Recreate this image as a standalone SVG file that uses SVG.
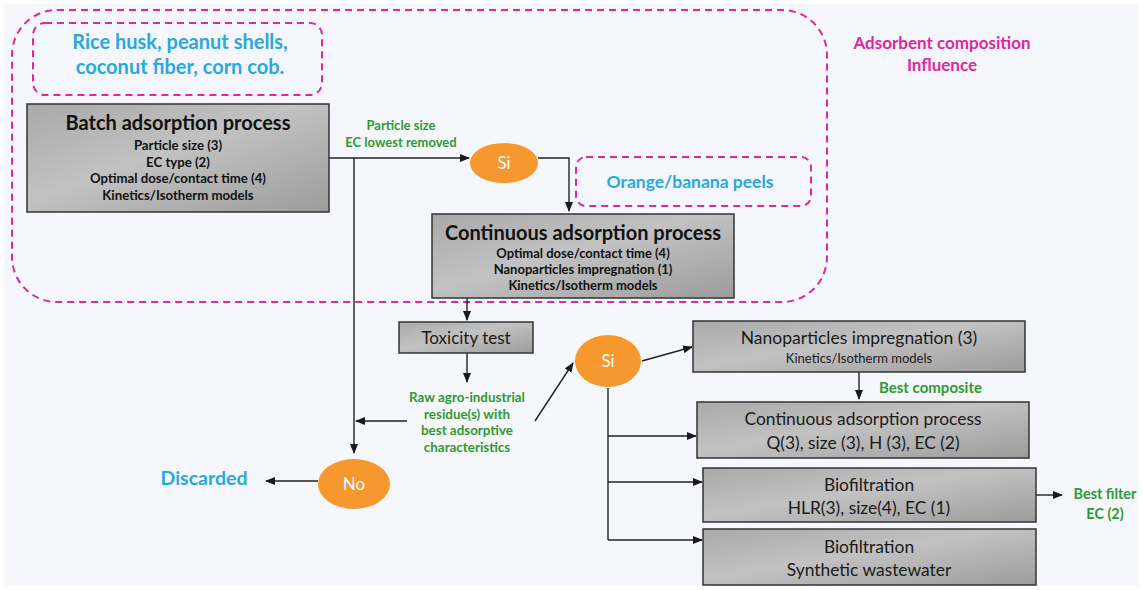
<svg xmlns="http://www.w3.org/2000/svg" width="1143" height="590" viewBox="0 0 1143 590">
<defs>
<linearGradient id="gbox" x1="0" y1="0" x2="1" y2="1">
<stop offset="0" stop-color="#a9a9a9"/>
<stop offset="0.45" stop-color="#c2c2c2"/>
<stop offset="1" stop-color="#9c9c9c"/>
</linearGradient>
<marker id="ah" markerWidth="10" markerHeight="8" refX="9" refY="4" orient="auto" markerUnits="userSpaceOnUse">
<path d="M0,0 L10,4 L0,8 Z" fill="#1a1a1a"/>
</marker>
<style>
.box{fill:url(#gbox);stroke:#333;stroke-width:1.5}
.dash{fill:none;stroke:#e0279f;stroke-width:2;stroke-dasharray:7,5}
.conn{fill:none;stroke:#222;stroke-width:1.4}
.arr{marker-end:url(#ah)}
.ell{fill:#f7982f}
text{font-family:Lato,"Open Sans","Liberation Sans",sans-serif;text-anchor:middle}
.tb{font-weight:bold;fill:#111}
.tr{fill:#1a1a1a}
.grn{font-weight:bold;fill:#2e9b2e}
.blu{font-weight:bold;fill:#29a8e0}
.mag{font-weight:bold;fill:#e0279f}
.wht{fill:#ffffff}
</style>
</defs>
<rect x="0" y="0" width="1143" height="590" fill="#ffffff"/>
<rect x="4" y="4" width="1135" height="582" fill="#f5f7fc"/>

<g id="composition-region">
<rect class="dash" x="12" y="10" width="815" height="292" rx="45" ry="45"/>
<text class="mag" x="942" y="49" font-size="17">Adsorbent composition</text>
<text class="mag" x="942" y="71" font-size="17">Influence</text>
</g>

<g id="materials-1">
<rect class="dash" x="33" y="23" width="289" height="72" rx="12" ry="12"/>
<text class="blu" x="180" y="49" font-size="20">Rice husk, peanut shells,</text>
<text class="blu" x="180" y="74" font-size="20">coconut fiber, corn cob.</text>
</g>

<g id="materials-2">
<rect class="dash" x="576" y="157" width="235" height="49" rx="10" ry="10"/>
<text class="blu" x="690" y="188" font-size="17.5">Orange/banana peels</text>
</g>

<g id="connectors">
<path class="conn arr" d="M329,158 L469,158"/>
<path class="conn arr" d="M354,158 L354,453"/>
<path class="conn arr" d="M538,158 L569,158 L569,211"/>
<path class="conn arr" d="M467,298 L467,320"/>
<path class="conn arr" d="M467,353 L467,382"/>
<path class="conn arr" d="M407,421 L356,421"/>
<path class="conn arr" d="M535,421 L573,363"/>
<path class="conn arr" d="M642,361 L692,347"/>
<path class="conn arr" d="M859,372 L859,399"/>
<path class="conn" d="M608,388 L608,540"/>
<path class="conn arr" d="M608,436 L696,436"/>
<path class="conn arr" d="M608,482 L702,482"/>
<path class="conn arr" d="M608,540 L702,540"/>
<path class="conn arr" d="M1036,495 L1062,495"/>
<path class="conn arr" d="M318,481 L266,481"/>
</g>

<g id="batch">
<rect class="box" x="27" y="104" width="302" height="108"/>
<text class="tb" x="178" y="130" font-size="20">Batch adsorption process</text>
<text class="tb" x="178" y="149.5" font-size="13.2">Particle size (3)</text>
<text class="tb" x="178" y="166.5" font-size="13.2">EC type (2)</text>
<text class="tb" x="178" y="182.5" font-size="13.2">Optimal dose/contact time (4)</text>
<text class="tb" x="178" y="199.5" font-size="13.2">Kinetics/Isotherm models</text>
</g>

<g id="label-particle">
<text class="grn" x="401" y="129.5" font-size="13">Particle size</text>
<text class="grn" x="401" y="146.5" font-size="13">EC lowest removed</text>
</g>

<g id="si-1">
<ellipse class="ell" cx="504" cy="163" rx="34" ry="20"/>
<text class="wht" x="504" y="169" font-size="17">Si</text>
</g>

<g id="continuous-1">
<rect class="box" x="432" y="214" width="302" height="84"/>
<text class="tb" x="583" y="239.5" font-size="20">Continuous adsorption process</text>
<text class="tb" x="583" y="257.5" font-size="13">Optimal dose/contact time (4)</text>
<text class="tb" x="583" y="273.5" font-size="13">Nanoparticles impregnation (1)</text>
<text class="tb" x="583" y="289.5" font-size="13">Kinetics/Isotherm models</text>
</g>

<g id="toxicity">
<rect class="box" x="399" y="322" width="134" height="31"/>
<text class="tr" x="466" y="344" font-size="17">Toxicity test</text>
</g>

<g id="raw-residue">
<text class="grn" x="467" y="401.5" font-size="13.4">Raw agro-industrial</text>
<text class="grn" x="467" y="418.5" font-size="13.4">residue(s) with</text>
<text class="grn" x="467" y="434.5" font-size="13.4">best adsorptive</text>
<text class="grn" x="467" y="451.5" font-size="13.4">characteristics</text>
</g>

<g id="si-2">
<ellipse class="ell" cx="608" cy="361" rx="33" ry="26"/>
<text class="wht" x="608" y="367" font-size="17">Si</text>
</g>

<g id="no">
<ellipse class="ell" cx="354" cy="484" rx="36" ry="25"/>
<text class="wht" x="354" y="490" font-size="17">No</text>
</g>

<g id="discarded">
<text class="blu" x="204" y="484.5" font-size="19.5">Discarded</text>
</g>

<g id="nanoparticles">
<rect class="box" x="693" y="321" width="332" height="51"/>
<text class="tr" x="859" y="344" font-size="17.5">Nanoparticles impregnation (3)</text>
<text class="tr" x="859" y="362.5" font-size="13">Kinetics/Isotherm models</text>
</g>

<g id="best-composite">
<text class="grn" x="879" y="392.5" font-size="15" style="text-anchor:start">Best composite</text>
</g>

<g id="continuous-2">
<rect class="box" x="697" y="402" width="332" height="56"/>
<text class="tr" x="863" y="425" font-size="17.4">Continuous adsorption process</text>
<text class="tr" x="863" y="449" font-size="17.4">Q(3), size (3), H (3), EC (2)</text>
</g>

<g id="biofiltration-1">
<rect class="box" x="703" y="468" width="333" height="54"/>
<text class="tr" x="869" y="491" font-size="17.4">Biofiltration</text>
<text class="tr" x="869" y="514" font-size="17.4">HLR(3), size(4), EC (1)</text>
</g>

<g id="biofiltration-2">
<rect class="box" x="703" y="529" width="333" height="56"/>
<text class="tr" x="869" y="553" font-size="17.4">Biofiltration</text>
<text class="tr" x="869" y="576" font-size="17.4">Synthetic wastewater</text>
</g>

<g id="best-filter">
<text class="grn" x="1105" y="498.5" font-size="14.4">Best filter</text>
<text class="grn" x="1105" y="518.5" font-size="14.4">EC (2)</text>
</g>
</svg>
